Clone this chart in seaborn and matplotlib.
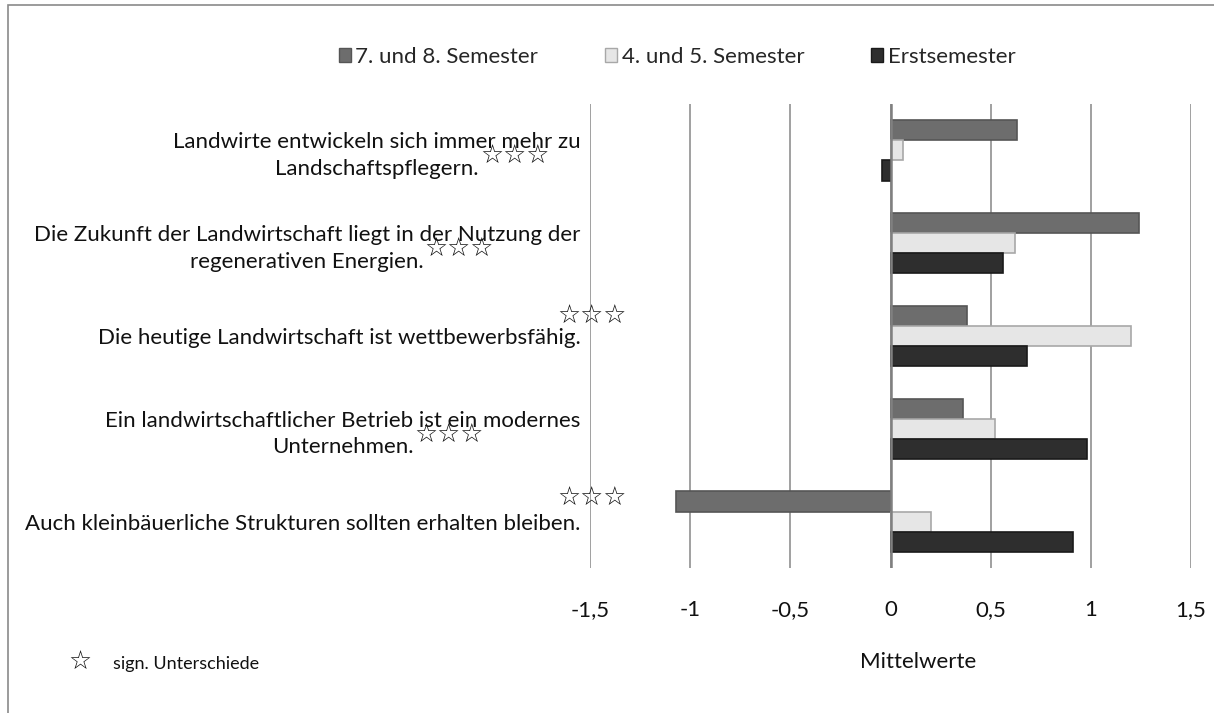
import pandas as pd
import matplotlib
matplotlib.use('Agg')
import matplotlib.pyplot as plt
import matplotlib.patches as mpatches
import seaborn as sns

# Daten
aussagen = [
    'Landwirte entwickeln sich immer mehr zu\nLandschaftspflegern.',
    'Die Zukunft der Landwirtschaft liegt in der Nutzung der\nregenerativen Energien.',
    'Die heutige Landwirtschaft ist wettbewerbsfähig.',
    'Ein landwirtschaftlicher Betrieb ist ein modernes\nUnternehmen.',
    'Auch kleinbäuerliche Strukturen sollten erhalten bleiben.',
]
gruppen = ['7. und 8. Semester', '4. und 5. Semester', 'Erstsemester']
werte_78 = [0.63, 1.24, 0.38, 0.36, -1.07]
werte_45 = [0.06, 0.62, 1.20, 0.52, 0.20]
werte_erst = [-0.04, 0.56, 0.68, 0.98, 0.91]
x_ticks = [-1.5, -1, -0.5, 0, 0.5, 1, 1.5]
x_tick_labels = ['-1,5', '-1', '-0,5', '0', '0,5', '1', '1,5']

farben = ['#6d6d6d', '#e6e6e6', '#2e2e2e']
kanten = ['#555555', '#a8a8a8', '#1a1a1a']

df = pd.DataFrame({
    'Aussage': aussagen * 3,
    'Gruppe': [g for g in gruppen for _ in aussagen],
    'Mittelwert': werte_78 + werte_45 + werte_erst,
})

sns.set_style('white')
plt.rcParams['font.family'] = ['Lato', 'DejaVu Sans']

W, H = 1214, 713
fig = plt.figure(figsize=(W / 100, H / 100), dpi=100)
ax = fig.add_axes([590 / W, 1 - 568 / H, 601 / W, 464 / H])


def px(x, y):
    return x / W, 1 - y / H


sns.barplot(data=df, y='Aussage', x='Mittelwert', hue='Gruppe', hue_order=gruppen,
            order=aussagen, palette=farben, orient='h', width=0.65, ax=ax,
            legend=False, saturation=1)

for cont, kante in zip(ax.containers, kanten):
    for bar in cont:
        bar.set_edgecolor(kante)
        bar.set_linewidth(1.2)

ax.set_xlim(-1.5, 1.5)
ax.set_ylim(4.5, -0.5)
ax.set_xticks(x_ticks)
ax.set_xticklabels(x_tick_labels)
ax.xaxis.grid(True, color='#a0a0a0', linewidth=1.4)
ax.set_axisbelow(True)
ax.axvline(0, color='#808080', linewidth=1.8, zorder=1)
for s in ax.spines.values():
    s.set_visible(False)
ax.tick_params(axis='x', length=0, pad=23, labelsize=16, labelcolor='#111111')
ax.tick_params(axis='y', length=0, pad=7, labelsize=16, labelcolor='#111111')
for lab in ax.get_yticklabels():
    lab.set_multialignment('center')
    lab.set_linespacing(1.4)
ax.set_ylabel('')
ax.set_xlabel('')

fig.text(*px(918, 662), 'Mittelwerte', ha='center', va='center', fontsize=16, color='#111111')

# Sterne (signifikante Unterschiede)
sterne = [(515, 157), (459, 250), (592, 317), (449, 436), (592, 499)]
for sx, sy in sterne:
    fig.text(*px(sx, sy), '\u2606\u2606\u2606', ha='center', va='center',
             fontsize=18.5, family=['DejaVu Sans'], color='#111111')

fig.text(*px(80, 663), '\u2606', ha='center', va='center', fontsize=18.5,
         family=['DejaVu Sans'], color='#111111')
fig.text(*px(113, 664), 'sign. Unterschiede', ha='left', va='center', fontsize=13,
         color='#111111')

# Legende
handles = [mpatches.Patch(facecolor=f, edgecolor=k, label=g)
           for f, k, g in zip(farben, kanten, gruppen)]
fig.legend(handles=handles, loc='center', bbox_to_anchor=px(677, 57), ncol=3,
           frameon=False, fontsize=16, handlelength=0.55, handleheight=0.55,
           handletextpad=0.2, columnspacing=3.0)

# Rahmen
rahmen = mpatches.Rectangle(px(8, 760), 1.2, (760 - 5) / H, transform=fig.transFigure,
                            fill=False, edgecolor='#8a8a8a', linewidth=1.2, clip_on=False)
fig.patches.append(rahmen)

fig.savefig('out.png', dpi=100)
